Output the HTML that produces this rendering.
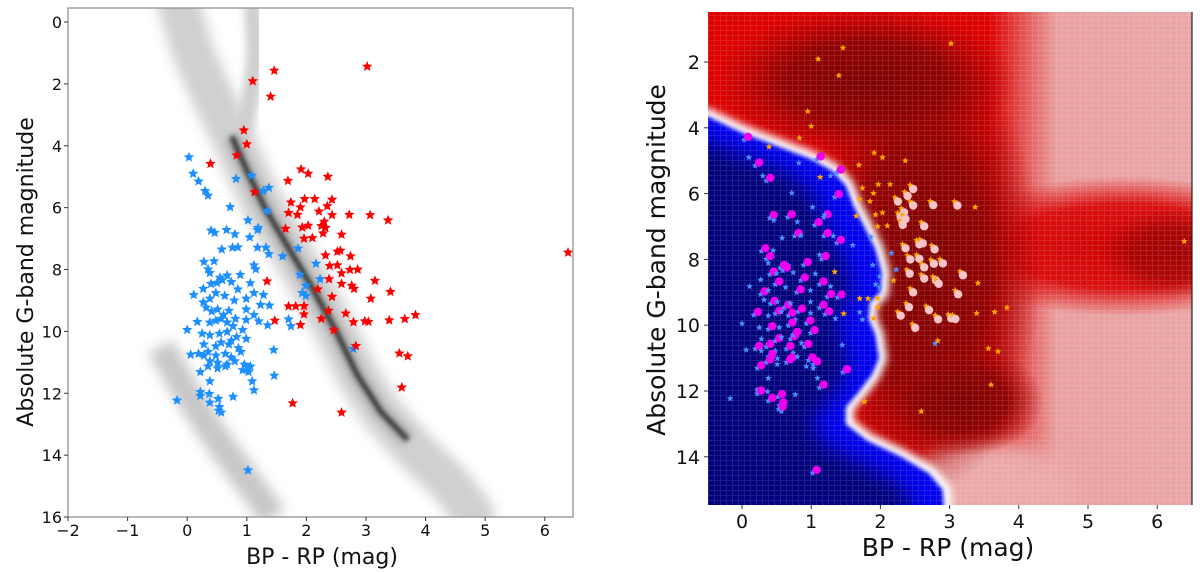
<!DOCTYPE html>
<html><head><meta charset="utf-8"><style>
body{margin:0;background:#fff;}
svg{display:block;font-family:"DejaVu Sans","Liberation Sans",sans-serif;}
</style></head><body>
<svg id="fig" width="1200" height="573" viewBox="0 0 1200 573">
<defs>
<filter id="b10" x="-50%" y="-50%" width="200%" height="200%"><feGaussianBlur stdDeviation="10"/></filter>
<filter id="b4" x="-20%" y="-20%" width="140%" height="140%"><feGaussianBlur stdDeviation="4"/></filter>
<filter id="b2" x="-20%" y="-20%" width="140%" height="140%"><feGaussianBlur stdDeviation="2"/></filter>
<filter id="b6" x="-20%" y="-20%" width="140%" height="140%"><feGaussianBlur stdDeviation="6"/></filter>
<clipPath id="clipL"><rect x="68" y="8" width="505" height="509"/></clipPath>
<clipPath id="clipR"><rect x="708" y="12" width="484" height="493"/></clipPath>
<linearGradient id="hgrad" x1="0" x2="1" y1="0" y2="0">
<stop offset="0" stop-color="#dd0000"/><stop offset="0.58" stop-color="#dd0000"/><stop offset="0.72" stop-color="#e9a0a0"/><stop offset="1" stop-color="#e9a6a6"/></linearGradient>
<radialGradient id="rDark"><stop offset="0" stop-color="#7e0000"/><stop offset="0.55" stop-color="#8a0000" stop-opacity="0.9"/><stop offset="1" stop-color="#a00000" stop-opacity="0"/></radialGradient>
<radialGradient id="rRed"><stop offset="0" stop-color="#cc0000"/><stop offset="0.6" stop-color="#d80000" stop-opacity="0.9"/><stop offset="1" stop-color="#dd0000" stop-opacity="0"/></radialGradient>
<pattern id="grid" width="6" height="5" patternUnits="userSpaceOnUse"><path d="M0 0.5H6M0.5 0V5" stroke="#fff" stroke-opacity="0.12" stroke-width="1"/></pattern>
</defs>
<g id="left"></g>
<g id="right"></g>
</svg>
<script>
// colour index BP-RP, absolute G magnitude
const redStars=[[1.46,1.57],[1.10,1.91],[1.40,2.41],[3.02,1.44],[0.95,3.50],[1.00,3.95],[0.83,4.31],[0.39,4.58],[1.13,5.50],[1.91,4.76],[2.03,4.90],[2.36,5.00],[1.69,5.13],[1.74,5.83],[1.97,5.72],[2.14,5.72],[2.35,5.95],[2.43,5.74],[1.70,6.17],[1.85,6.23],[1.90,5.99],[2.21,6.12],[2.43,6.24],[2.72,6.23],[3.07,6.24],[3.37,6.41],[1.65,6.68],[1.93,6.64],[2.03,6.58],[2.25,6.59],[2.30,6.45],[2.10,6.98],[1.96,7.00],[2.28,6.83],[2.59,6.87],[2.32,6.65],[2.52,7.42],[2.32,7.54],[2.57,7.39],[2.74,7.57],[2.39,7.88],[2.52,7.86],[2.73,8.01],[2.86,8.00],[2.59,8.12],[2.38,8.31],[2.59,8.46],[3.15,8.36],[2.76,8.52],[2.80,8.62],[3.41,8.72],[2.19,8.64],[2.43,8.88],[3.08,8.94],[1.34,8.38],[1.70,9.19],[1.82,9.19],[1.96,9.18],[1.96,9.45],[2.37,9.33],[2.66,9.42],[1.47,9.65],[2.25,9.59],[2.79,9.70],[2.98,9.67],[3.04,9.69],[3.39,9.64],[3.65,9.60],[3.83,9.47],[1.90,9.79],[2.46,9.96],[2.83,10.47],[3.56,10.71],[3.70,10.80],[3.60,11.81],[1.77,12.32],[2.59,12.62],[6.39,7.45]];
const blueStars=[[0.03,4.37],[0.10,4.90],[0.19,5.15],[0.30,5.46],[0.35,5.61],[0.82,5.07],[1.08,4.96],[1.28,5.46],[1.37,5.36],[0.72,5.98],[1.34,6.11],[1.02,6.41],[0.40,6.74],[0.46,6.81],[0.66,6.72],[0.80,6.86],[1.18,6.72],[1.19,6.65],[1.05,6.96],[0.58,7.35],[0.76,7.29],[0.85,7.28],[1.18,7.29],[1.32,7.29],[1.37,7.50],[1.60,7.57],[1.86,7.32],[2.16,7.81],[1.89,8.17],[1.99,8.52],[2.23,8.31],[1.93,8.76],[1.99,8.85],[1.70,9.61],[1.74,9.83],[1.35,9.80],[1.20,9.67],[0.99,9.63],[0.17,9.69],[0.00,9.95],[0.28,7.75],[0.45,7.73],[0.35,7.99],[0.38,8.11],[0.55,8.26],[0.67,8.19],[0.89,8.17],[1.12,7.86],[1.15,7.99],[0.27,8.62],[0.40,8.46],[0.50,8.43],[0.59,8.34],[0.74,8.40],[0.85,8.64],[1.06,8.44],[1.12,8.76],[1.28,8.82],[1.38,9.16],[0.11,8.82],[0.27,9.06],[0.38,8.94],[0.48,8.76],[0.63,8.85],[0.79,9.00],[0.99,8.94],[1.23,9.14],[0.32,9.23],[0.41,9.35],[0.51,9.29],[0.61,9.47],[0.70,9.33],[0.81,9.59],[0.99,9.29],[1.12,9.47],[0.38,9.71],[0.48,9.65],[0.57,9.59],[0.67,9.71],[0.77,9.83],[0.93,9.95],[0.25,10.07],[0.38,10.12],[0.54,10.07],[0.67,10.01],[0.83,10.18],[0.99,10.24],[0.28,10.42],[0.48,10.48],[0.57,10.36],[0.70,10.42],[0.86,10.54],[0.35,10.66],[0.48,10.78],[0.64,10.72],[0.74,10.84],[0.90,10.66],[0.06,10.75],[0.19,10.72],[0.28,10.78],[0.38,10.96],[0.51,11.01],[0.67,11.07],[0.80,10.96],[0.96,11.07],[1.06,11.13],[0.35,11.13],[0.51,11.19],[0.64,11.13],[0.93,11.25],[1.03,11.19],[1.03,11.31],[1.46,11.43],[0.38,11.61],[0.22,11.31],[1.09,11.61],[1.12,11.90],[0.22,11.96],[0.22,12.08],[0.37,12.02],[0.52,12.18],[0.77,12.11],[0.38,12.30],[-0.17,12.23],[0.54,12.44],[0.57,12.62],[0.53,12.56],[2.79,10.56],[1.02,14.49],[1.45,10.60],[0.74,10.30]];
// background field-star sequences (ridge lines)
const mainSeq=[[-0.15,-0.6],[0.1,1],[0.45,2.5],[0.75,3.7],[1.0,4.8],[1.3,6],[1.7,7.3],[2.1,8.6],[2.5,10],[2.85,11.4],[3.25,12.6],[3.8,13.8],[4.4,14.9],[4.8,15.9]];
const msCore=[[0.75,3.7],[1.0,4.8],[1.3,6],[1.7,7.3],[2.1,8.6],[2.5,10],[2.85,11.4],[3.25,12.6],[3.7,13.5]];
const giantSeq=[[1.1,-0.6],[1.15,1],[1.1,2],[1.0,3],[0.9,3.8]];
const wdSeq=[[-0.45,10.5],[0.0,12],[0.5,13.5],[1.0,14.8],[1.45,16]];
const boundary=[[-0.5,3.65],[0,4.15],[0.5,4.55],[1.0,4.95],[1.3,5.3],[1.5,5.75],[1.62,6.4],[1.78,7.05],[1.93,7.7],[2.02,8.4],[2.0,9.0],[1.85,9.3],[1.83,9.8],[1.93,10.3],[1.98,11.0],[1.88,11.5],[1.7,12.0],[1.5,12.5],[1.5,13.0],[1.8,13.5],[2.3,14.0],[2.7,14.5],[2.9,15.0],[2.92,15.6]];
const xTicksL=[-2,-1,0,1,2,3,4,5,6], yTicksL=[0,2,4,6,8,10,12,14,16];
const xTicksR=[0,1,2,3,4,5,6], yTicksR=[2,4,6,8,10,12,14];

const NS="http://www.w3.org/2000/svg";
function mk(tag,attrs,parent){const e=document.createElementNS(NS,tag);for(const k in attrs)e.setAttribute(k,attrs[k]);parent.appendChild(e);return e;}
function starPath(x,y,r){let d="";for(let i=0;i<10;i++){const a=-Math.PI/2+i*Math.PI/5,rr=i%2?r*0.45:r;d+=(i?"L":"M")+(x+rr*Math.cos(a)).toFixed(1)+" "+(y+rr*Math.sin(a)).toFixed(1);}return d+"Z";}
function line(pts,sx,sy){return pts.map((p,i)=>(i?"L":"M")+sx(p[0]).toFixed(1)+" "+sy(p[1]).toFixed(1)).join("");}

// ---------- LEFT ----------
const lx=c=>68+(c+2)*59.6, ly=m=>22+m*30.94;
const L=document.getElementById('left');
const bgL=mk('g',{'clip-path':'url(#clipL)'},L);


mk('path',{d:line(mainSeq,lx,ly),fill:'none',stroke:'#c8c8c8','stroke-width':42,'stroke-linecap':'round',filter:'url(#b6)',opacity:0.85},bgL);
mk('path',{d:line(giantSeq,lx,ly),fill:'none',stroke:'#cfcfcf','stroke-width':18,filter:'url(#b4)'},bgL);
mk('path',{d:line(wdSeq,lx,ly),fill:'none',stroke:'#c8c8c8','stroke-width':28,filter:'url(#b6)'},bgL);
mk('path',{d:line(msCore,lx,ly),fill:'none',stroke:'#777','stroke-width':14,filter:'url(#b4)',opacity:0.5},bgL);
mk('path',{d:line(msCore,lx,ly),fill:'none',stroke:'#222','stroke-width':5,filter:'url(#b2)',opacity:0.85},bgL);
const gB=mk('g',{},L);
blueStars.forEach(p=>{const s=mk('path',{d:starPath(lx(p[0]),ly(p[1]),5.5),fill:'#1e8fff'},gB);

});
const gRd=mk('g',{},L);
redStars.forEach(p=>{const s=mk('path',{d:starPath(lx(p[0]),ly(p[1]),5.5),fill:'#ff0000'},gRd);

});
const fr=mk('rect',{x:68,y:8,width:505,height:509,fill:'none',stroke:'#888','stroke-width':1.2},L);

xTicksL.forEach(t=>{mk('line',{x1:lx(t),x2:lx(t),y1:517,y2:521,stroke:'#333'},L);
const tx=mk('text',{x:lx(t),y:536,'font-size':16,'text-anchor':'middle',fill:'#111'},L);tx.textContent=t<0?'\u2212'+(-t):t;
});
yTicksL.forEach(t=>{mk('line',{x1:64,x2:68,y1:ly(t),y2:ly(t),stroke:'#333'},L);
const tx=mk('text',{x:62,y:ly(t)+6,'font-size':16,'text-anchor':'end',fill:'#111'},L);tx.textContent=t;
});
let t1=mk('text',{x:322,y:564,'font-size':22,'text-anchor':'middle',fill:'#111'},L);t1.textContent='BP - RP (mag)';

let t2=mk('text',{x:0,y:0,'font-size':22,'text-anchor':'middle',fill:'#111',transform:'translate(33,272) rotate(-90)'},L);t2.textContent='Absolute G-band magnitude';


// ---------- RIGHT ----------
const rx=c=>742+c*69.2, ry=m=>62+(m-2)*32.9;
const R=document.getElementById('right');
const hm=mk('g',{'clip-path':'url(#clipR)'},R);

mk('rect',{x:708,y:12,width:484,height:493,fill:'url(#hgrad)'},hm);
mk('ellipse',{cx:rx(5.5),cy:ry(7.6),rx:190,ry:70,fill:'url(#rRed)'},hm);
mk('ellipse',{cx:rx(3.6),cy:ry(15.3),rx:90,ry:60,fill:'#eaa8a8',filter:'url(#b10)'},hm);
mk('ellipse',{cx:rx(2.6),cy:ry(8.2),rx:120,ry:230,fill:'url(#rDark)'},hm);
mk('ellipse',{cx:rx(1.8),cy:ry(2.6),rx:150,ry:75,fill:'url(#rDark)'},hm);
mk('ellipse',{cx:rx(6.2),cy:ry(7.8),rx:70,ry:45,fill:'url(#rDark)',opacity:0.6},hm);
mk('ellipse',{cx:rx(3.2),cy:ry(12.3),rx:80,ry:55,fill:'url(#rDark)'},hm);
const poly=line(boundary,rx,ry)+"L"+rx(-1)+" "+ry(16)+"L"+rx(-1)+" "+ry(3.6)+"Z";
mk('path',{d:poly,fill:'#ffffff',stroke:'#ffffff','stroke-width':16,filter:'url(#b4)'},hm);
mk('path',{d:poly,fill:'#0000ee',filter:'url(#b2)'},hm);
const inner=boundary.map(p=>[p[0]-0.45,p[1]+0.3]);
mk('path',{d:line(inner,rx,ry)+"L"+rx(-1)+" "+ry(16)+"L"+rx(-1)+" "+ry(4)+"Z",fill:'#00007a',filter:'url(#b10)'},hm);
mk('rect',{x:708,y:12,width:484,height:493,fill:'url(#grid)'},hm);
const gRB=mk('g',{'clip-path':'url(#clipR)'},R);
blueStars.forEach((p,i)=>{const s=mk('path',{d:starPath(rx(p[0]),ry(p[1]),3.5),fill:'#4d8cff'},gRB);


if(i%2===0&&p[0]<1.5){const c=mk('circle',{cx:rx(p[0])+4,cy:ry(p[1])-3,r:4.2,fill:'#ee00ee'},gRB);

}});
const gRR=mk('g',{'clip-path':'url(#clipR)'},R);
redStars.forEach(p=>{const s=mk('path',{d:starPath(rx(p[0]),ry(p[1]),3.5),fill:'#ffa500'},gRR);


if(p[0]>2.2&&p[0]<3.2&&p[1]>5.5&&p[1]<10){const c=mk('circle',{cx:rx(p[0])+3,cy:ry(p[1])+4,r:4.2,fill:'#f7c4c8'},gRR);

}});
mk('line',{x1:1192,x2:1192,y1:12,y2:505,stroke:'#222','stroke-width':1.2},R);
xTicksR.forEach(t=>{mk('line',{x1:rx(t),x2:rx(t),y1:505,y2:509,stroke:'#333'},R);
const tx=mk('text',{x:rx(t),y:528,'font-size':19,'text-anchor':'middle',fill:'#111'},R);tx.textContent=t;
});
yTicksR.forEach(t=>{mk('line',{x1:704,x2:708,y1:ry(t),y2:ry(t),stroke:'#333'},R);
const tx=mk('text',{x:700,y:ry(t)+7,'font-size':19,'text-anchor':'end',fill:'#111'},R);tx.textContent=t;
});
let t3=mk('text',{x:948,y:556,'font-size':25,'text-anchor':'middle',fill:'#111'},R);t3.textContent='BP - RP (mag)';

let t4=mk('text',{x:0,y:0,'font-size':25,'text-anchor':'middle',fill:'#111',transform:'translate(665,260) rotate(-90)'},R);t4.textContent='Absolute G-band magnitude';

</script>
</body></html>
